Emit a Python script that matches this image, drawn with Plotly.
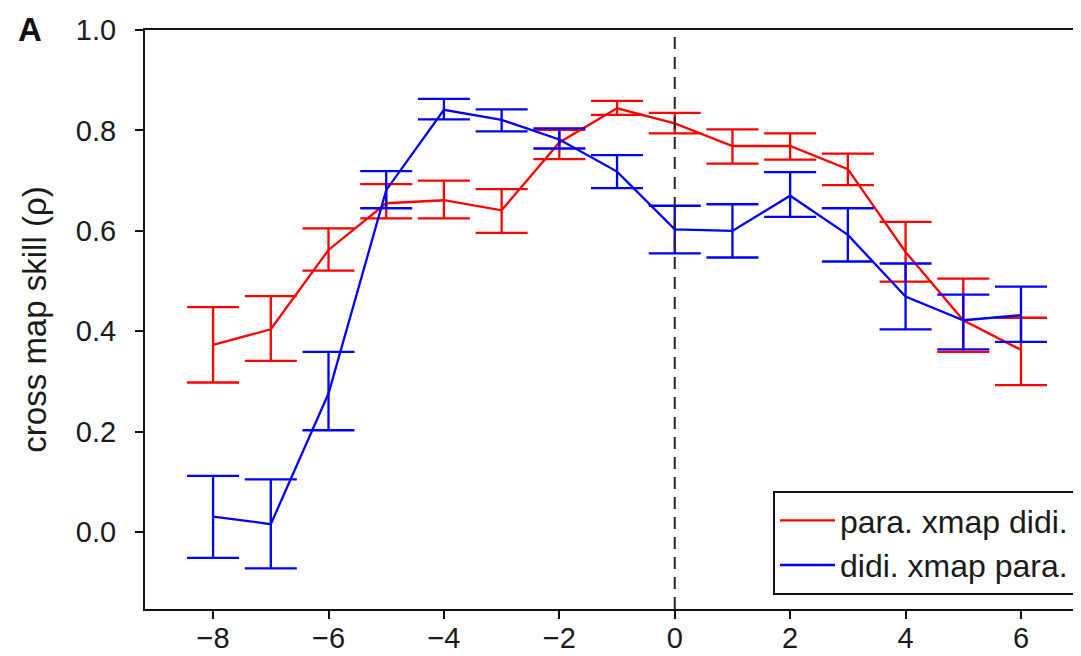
import plotly.graph_objects as go

lags = [-8, -7, -6, -5, -4, -3, -2, -1, 0, 1, 2, 3, 4, 5, 6]

para_xmap_didi = [0.373, 0.404, 0.562, 0.655, 0.661, 0.641, 0.776, 0.844, 0.814, 0.769, 0.769, 0.723, 0.558, 0.422, 0.363]
para_upper = [0.448, 0.470, 0.605, 0.693, 0.700, 0.683, 0.801, 0.859, 0.835, 0.802, 0.794, 0.754, 0.618, 0.505, 0.427]
para_lower = [0.298, 0.341, 0.521, 0.625, 0.625, 0.596, 0.743, 0.831, 0.794, 0.734, 0.742, 0.691, 0.499, 0.359, 0.293]

didi_xmap_para = [0.031, 0.016, 0.276, 0.681, 0.841, 0.821, 0.782, 0.718, 0.603, 0.600, 0.670, 0.592, 0.469, 0.422, 0.432]
didi_upper = [0.112, 0.105, 0.359, 0.719, 0.863, 0.842, 0.804, 0.751, 0.650, 0.653, 0.717, 0.645, 0.535, 0.473, 0.489]
didi_lower = [-0.051, -0.072, 0.203, 0.645, 0.822, 0.798, 0.764, 0.685, 0.555, 0.547, 0.628, 0.539, 0.404, 0.364, 0.379]

x_ticks = [-8, -6, -4, -2, 0, 2, 4, 6]
y_ticks = [0.0, 0.2, 0.4, 0.6, 0.8, 1.0]

FONT = "Liberation Sans, Arial, Helvetica, sans-serif"
TXT = "#1a1a1a"
AX = "#111111"

# the page body adds an 8px margin; size the figure so it fills the window
PAGE_OFF = 8
W, H = 1081 - PAGE_OFF, 656 - PAGE_OFF


def err(center, upper, lower):
    plus = [u - c for u, c in zip(upper, center)]
    minus = [c - l for c, l in zip(center, lower)]
    return plus, minus


fig = go.Figure()

for name, y, up, lo, color in [
    ("para. xmap didi.", para_xmap_didi, para_upper, para_lower, "#ff0000"),
    ("didi. xmap para.", didi_xmap_para, didi_upper, didi_lower, "#0000ff"),
]:
    plus, minus = err(y, up, lo)
    fig.add_trace(go.Scatter(
        x=lags, y=y, name=name, mode="lines",
        line=dict(color=color, width=2.3),
        error_y=dict(type="data", symmetric=False, array=plus, arrayminus=minus,
                     color=color, thickness=2.3, width=26),
    ))

fig.add_shape(type="line", xref="x", yref="paper", x0=0, x1=0, y0=0, y1=1,
              line=dict(color="#222222", width=2, dash="12px,8px"))

fig.add_annotation(text="<b>A</b>", xref="paper", yref="paper",
                   x=-0.1225, y=1.037, xanchor="center", yanchor="top",
                   showarrow=False, font=dict(family=FONT, size=33, color="#111111"))

fig.update_layout(
    width=W, height=H,
    margin=dict(l=137, r=0, t=22, b=47, autoexpand=False),
    paper_bgcolor="white", plot_bgcolor="white",
    font=dict(family=FONT, size=29, color=TXT),
    showlegend=True,
    legend=dict(x=0.9936, y=0.024, xanchor="right", yanchor="bottom",
                bordercolor=AX, borderwidth=2, bgcolor="white",
                font=dict(family=FONT, size=32, color=TXT),
                tracegroupgap=0, itemwidth=55),
)

fig.update_xaxes(
    range=[-9.18, 7.04], tickmode="array", tickvals=x_ticks,
    showgrid=False, zeroline=False, automargin=False,
    showline=True, linecolor=AX, linewidth=2, mirror=True,
    ticks="outside", ticklen=8, tickwidth=2, tickcolor=AX,
    ticklabelstandoff=-6,
    tickfont=dict(family=FONT, size=29, color=TXT),
)
fig.update_yaxes(
    range=[-0.153, 1.0], tickmode="array", tickvals=y_ticks, tickformat=".1f",
    showgrid=False, zeroline=False, automargin=False,
    showline=True, linecolor=AX, linewidth=2, mirror=False,
    ticks="outside", ticklen=8, tickwidth=2, tickcolor=AX,
    ticklabelstandoff=13,
    tickfont=dict(family=FONT, size=29, color=TXT),
    title=dict(text="cross map skill (ρ)", font=dict(family=FONT, size=33, color=TXT), standoff=19),
)

fig.write_html("out.html")
